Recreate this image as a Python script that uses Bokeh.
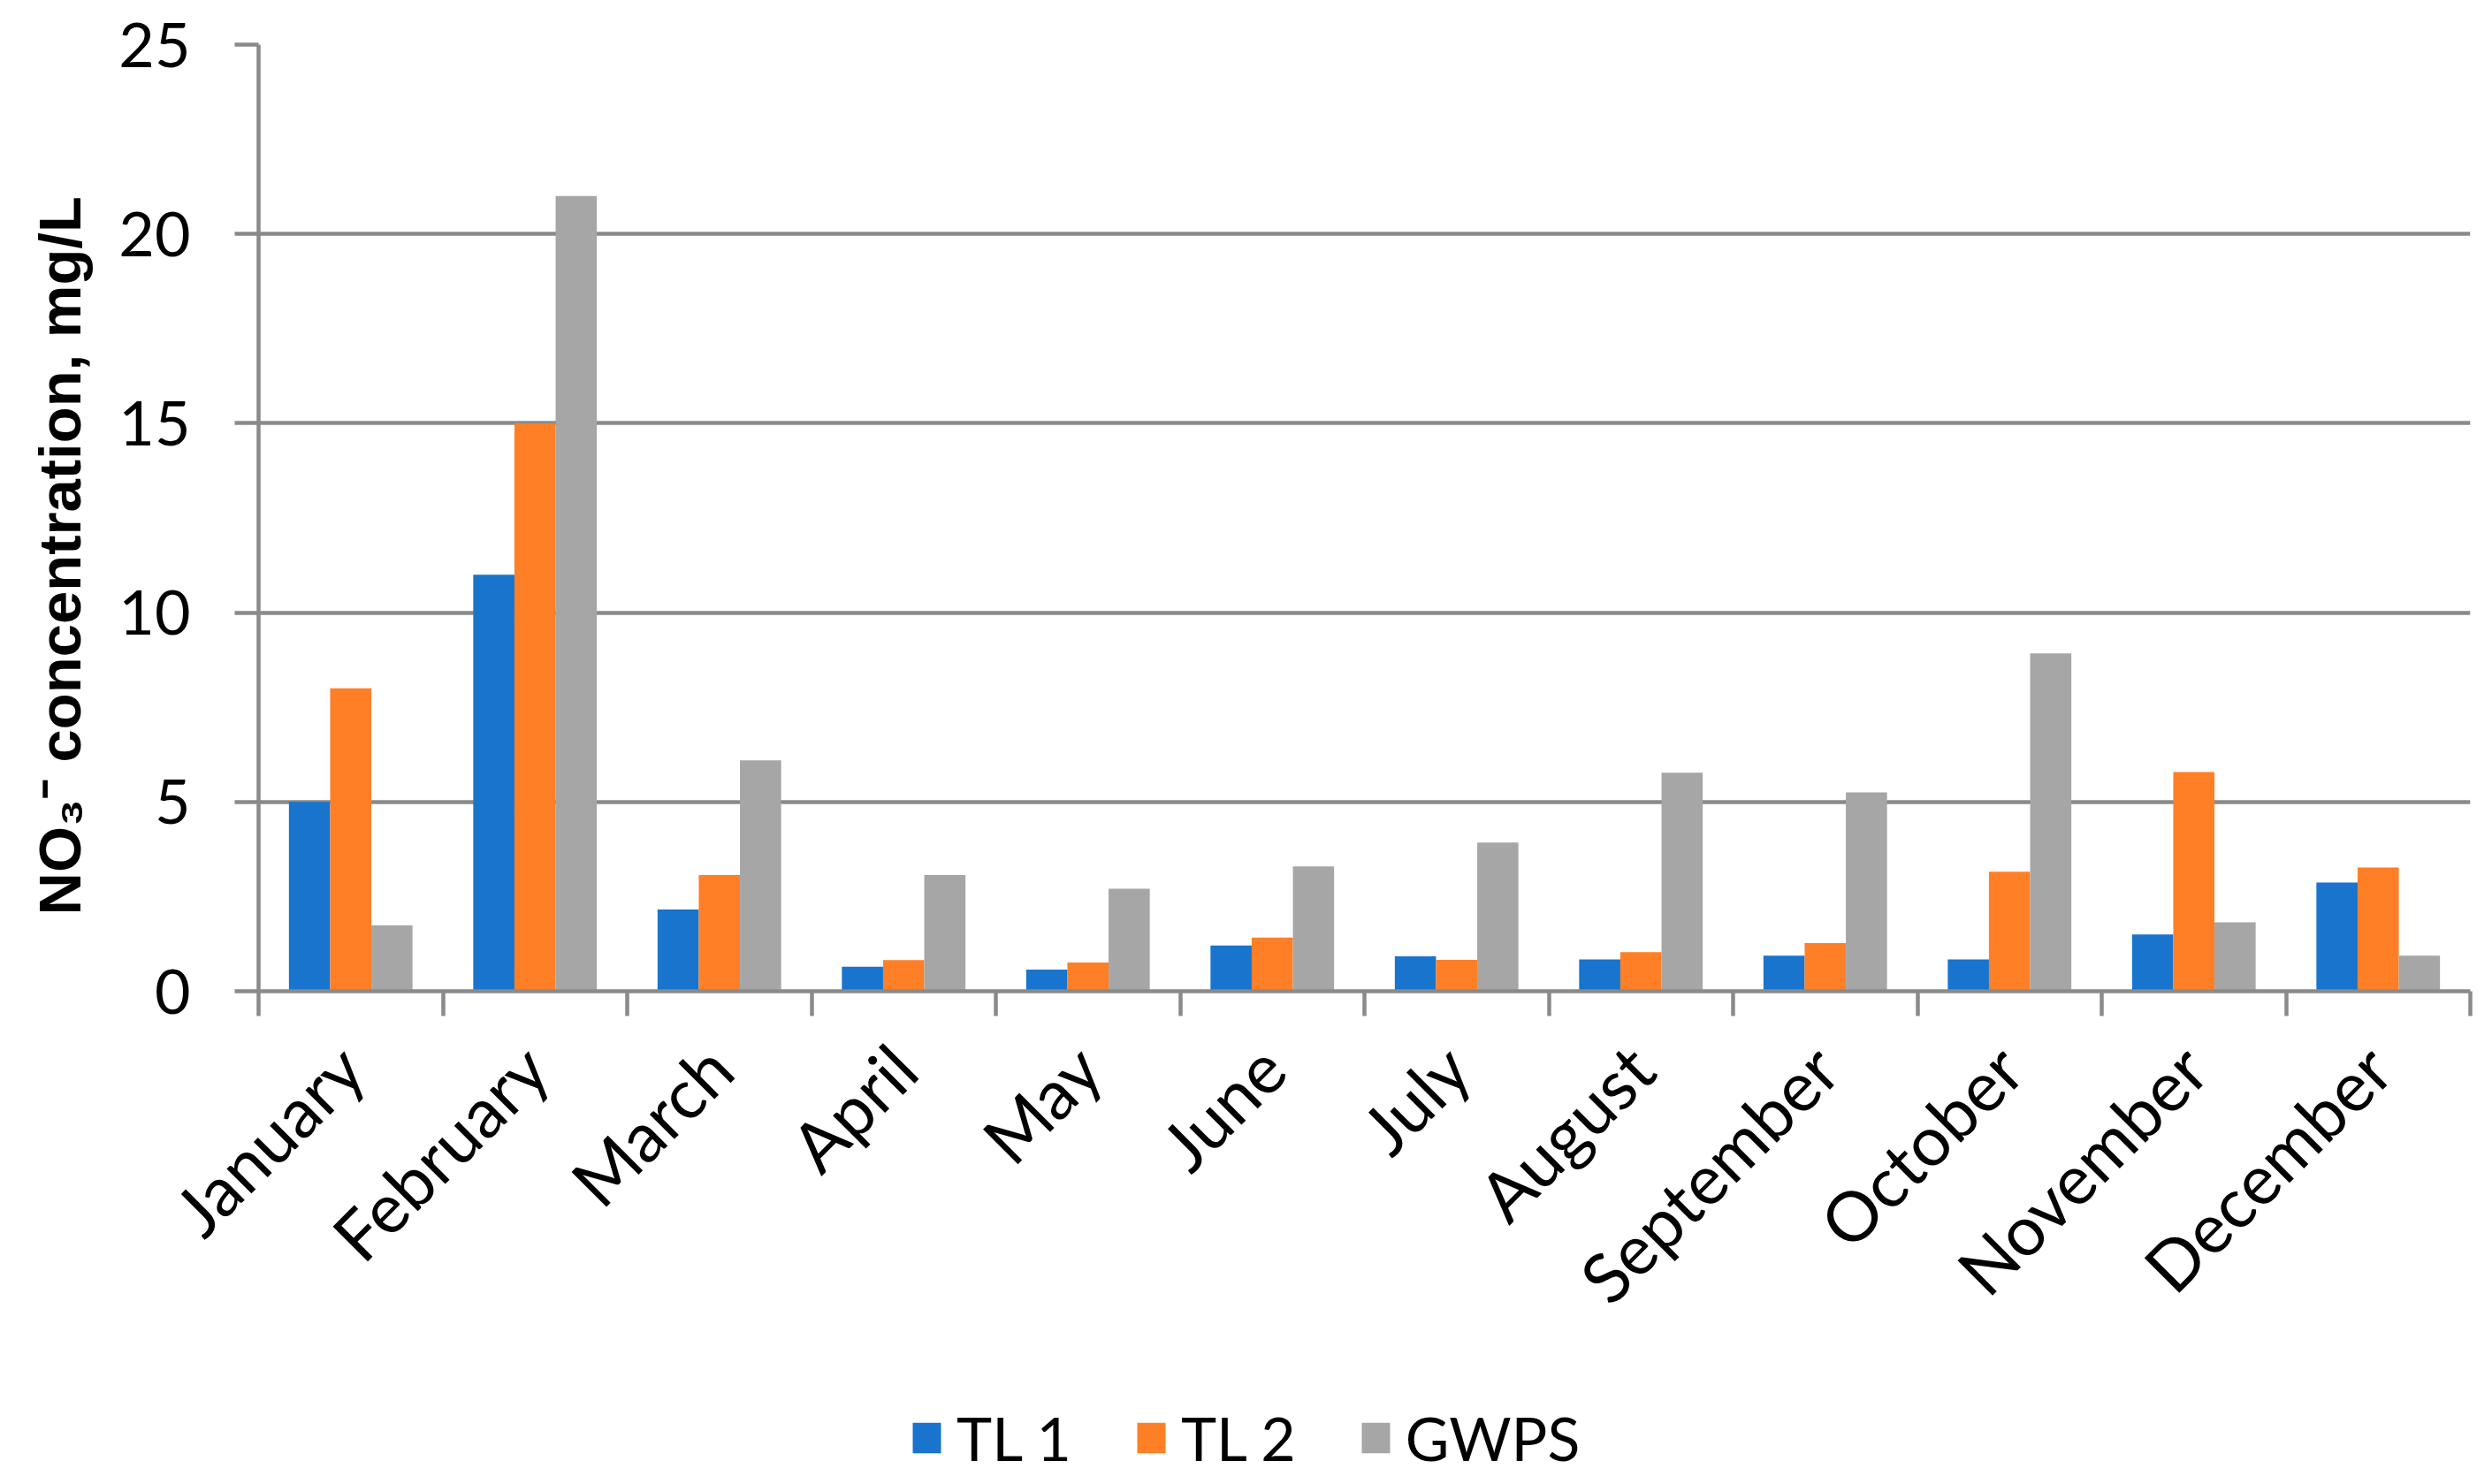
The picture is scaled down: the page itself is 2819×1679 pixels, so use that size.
import numpy as np
import pandas as pd
from bokeh.plotting import figure
from bokeh.layouts import column
from bokeh.models import (ColumnDataSource, Range1d, FixedTicker, LinearAxis,
                          Legend, LegendItem, Title)
from bokeh.transform import dodge
from bokeh.embed import file_html
from bokeh.resources import INLINE

# ---------------- data ----------------
months = ["January", "February", "March", "April", "May", "June", "July",
          "August", "September", "October", "November", "December"]
tl1 = [5.0, 11.0, 2.16, 0.65, 0.57, 1.21, 0.92, 0.84, 0.94, 0.84, 1.50, 2.87]
tl2 = [8.0, 15.0, 3.07, 0.82, 0.76, 1.42, 0.83, 1.03, 1.27, 3.16, 5.79, 3.27]
gwps = [1.74, 21.0, 6.10, 3.07, 2.71, 3.30, 3.93, 5.77, 5.25, 8.92, 1.82, 0.94]
series_names = ["TL 1", "TL 2", "GWPS"]
y_ticks = [0, 5, 10, 15, 20, 25]
y_label = "NO\u2083\u207b concentration, mg/L"

# ---------------- style ----------------
colors = ["#1874cd", "#ff7f27", "#a6a6a6"]
GRAY = "#8a8a8a"
LW = 4.5
TICK_FONT = "Lato"
BAR_W = 0.2235
W = 2803
H_MAIN = 1560
H_LEG = 115

df = pd.DataFrame({"month": months, "TL 1": tl1, "TL 2": tl2, "GWPS": gwps})
df["x"] = np.arange(len(months)) + 0.5
src = ColumnDataSource(df)

p = figure(width=W, height=H_MAIN, output_backend="svg", toolbar_location=None,
           x_range=Range1d(0, len(months)), y_range=Range1d(0, 25),
           x_axis_location=None,
           min_border_left=289, min_border_right=9, min_border_top=50,
           min_border_bottom=H_MAIN - 1121)
p.outline_line_color = None
p.background_fill_color = "white"
p.border_fill_color = "white"

for j, name in enumerate(series_names):
    p.vbar(x=dodge("x", (j - 1) * BAR_W, range=p.x_range), top=name,
           width=BAR_W, source=src, fill_color=colors[j], line_color=None)

# y axis
yax = p.yaxis[0]
yax.ticker = FixedTicker(ticks=y_ticks)
yax.axis_line_color = GRAY
yax.axis_line_width = LW
yax.major_tick_line_color = GRAY
yax.major_tick_line_width = LW
yax.major_tick_out = 27
yax.major_tick_in = 0
yax.minor_tick_line_color = None
yax.major_label_text_font = TICK_FONT
yax.major_label_text_font_size = "70px"
yax.major_label_text_color = "black"
yax.major_label_standoff = 50

ytitle = Title(text=y_label, text_font="Liberation Sans", text_font_style="bold",
               text_font_size="67px", text_color="black", align="left",
               vertical_align="bottom", offset=86, standoff=54)
p.add_layout(ytitle, "left")

p.ygrid.ticker = FixedTicker(ticks=y_ticks)
p.ygrid.grid_line_color = GRAY
p.ygrid.grid_line_width = LW
p.xgrid.grid_line_color = None

# x axis: boundary ticks
bounds = list(range(len(months) + 1))
tick_axis = LinearAxis(ticker=FixedTicker(ticks=bounds),
                       major_label_overrides={b: "" for b in bounds},
                       major_tick_out=28, major_tick_in=0,
                       axis_line_color=GRAY, axis_line_width=LW,
                       major_tick_line_color=GRAY, major_tick_line_width=LW,
                       minor_tick_line_color=None, major_label_standoff=0)
p.add_layout(tick_axis, "below")

centers = list(df["x"])
label_axis = LinearAxis(ticker=FixedTicker(ticks=centers),
                        major_label_overrides={c: m for c, m in zip(centers, months)},
                        axis_line_color=None, major_tick_line_color=None,
                        minor_tick_line_color=None,
                        major_label_orientation=np.pi / 4,
                        major_label_text_font=TICK_FONT,
                        major_label_text_font_size="78px",
                        major_label_text_color="black",
                        major_label_standoff=40)
p.add_layout(label_axis, "below")

# legend strip below the chart
leg = figure(width=W, height=H_LEG, output_backend="svg", toolbar_location=None,
             x_range=Range1d(0, 1), y_range=Range1d(0, 1),
             x_axis_location=None, y_axis_location=None, min_border=0)
leg.outline_line_color = None
leg.xgrid.grid_line_color = None
leg.ygrid.grid_line_color = None
leg_src = ColumnDataSource(dict(x=[-10.0], top=[0.0]))
leg_renderers = [leg.vbar(x="x", top="top", width=0.1, source=leg_src,
                          fill_color=c, line_color=None) for c in colors]
legend = Legend(items=[LegendItem(label=n, renderers=[r])
                       for n, r in zip(series_names, leg_renderers)],
                orientation="horizontal", location=(736, 8),
                glyph_width=40, glyph_height=43, label_height=43,
                label_standoff=14, spacing=70, padding=0, margin=0,
                border_line_color=None, background_fill_alpha=0,
                label_text_font=TICK_FONT, label_text_font_size="68px",
                label_text_color="black", label_text_baseline="middle")
leg.add_layout(legend, "center")

layout = column(p, leg, spacing=0)
open("out.html", "w").write(file_html(layout, INLINE))
